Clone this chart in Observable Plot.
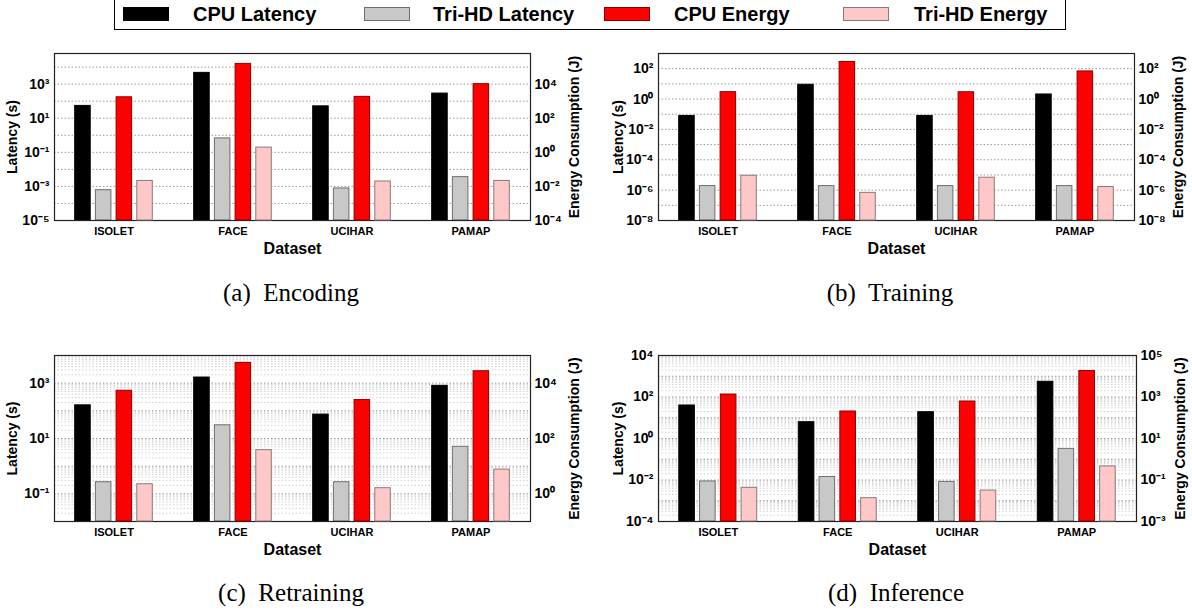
<!DOCTYPE html>
<html>
<head>
<meta charset="utf-8">
<script src="https://cdn.jsdelivr.net/npm/d3@7"></script>
<script src="https://cdn.jsdelivr.net/npm/@observablehq/plot@0.6"></script>
<style>
  html, body { margin: 0; padding: 0; background: #fff; }
  #fig { position: relative; width: 1192px; height: 613px; overflow: hidden; font-family: "Liberation Sans", Arial, sans-serif; }
  .panel { position: absolute; }
  .panel svg { position: absolute; left: 0; top: 0; overflow: visible; }
  .panel svg [aria-label="fx-axis label"] text, .panel svg [aria-label="fx-axis label"] { font-size: 16px; font-weight: bold; }
  .panel svg [aria-label="y-axis label"] text, .panel svg [aria-label="y-axis label"] { font-size: 14px; font-weight: bold; }
  .cap { position: absolute; transform: translate(-50%, -50%); font-family: "Liberation Serif", "Times New Roman", serif; font-size: 25px; white-space: pre; color: #000; }
  #legend { position: absolute; left: 114px; top: 0px; width: 952px; height: 30px; border: 1.5px solid #000; border-top: none; box-sizing: border-box; }
  .sw { position: absolute; top: 7px; width: 46px; height: 14px; box-sizing: border-box; border: 1px solid; }
  .lt { position: absolute; top: 14px; transform: translateY(-50%); font-family: "Liberation Sans", Arial, sans-serif; font-weight: bold; font-size: 20px; white-space: nowrap; }
</style>
</head>
<body>
<div id="fig"></div>
<script>
// ---------- data ----------
const datasets = ["ISOLET", "FACE", "UCIHAR", "PAMAP"];
const series = ["CPU Latency", "Tri-HD Latency", "CPU Energy", "Tri-HD Energy"];
const fills = ["#000000", "#c8c8c8", "#ff0000", "#ffc8c8"];
const strokes = ["#000000", "#6e6e6e", "#8a0000", "#8a7a7a"];

// (a) Encoding
const encCpuLat = [53, 4600, 50, 280];
const encTriLat = [6e-4, 0.66, 7.6e-4, 3.5e-3];
const encCpuEnergy = [1700, 1.55e5, 1800, 1e4];
const encTriEnergy = [0.021, 1.9, 0.0195, 0.021];
// (b) Training
const trnCpuLat = [0.077, 8.7, 0.077, 2.0];
const trnTriLat = [1.85e-6, 1.85e-6, 1.85e-6, 1.85e-6];
const trnCpuEnergy = [2.84, 278, 2.8, 66];
const trnTriEnergy = [8.9e-6, 6.6e-7, 6.6e-6, 1.6e-6];
// (c) Retraining
const retCpuLat = [158, 1600, 73, 800];
const retTriLat = [0.263, 30, 0.263, 5.0];
const retCpuEnergy = [5300, 5.4e4, 2450, 2.7e4];
const retTriEnergy = [2.22, 38, 1.6, 7.5];
// (d) Inference
const infCpuLat = [39, 6.1, 18.5, 540];
const infTriLat = [0.0085, 0.014, 0.0081, 0.316];
const infCpuEnergy = [1320, 200, 605, 1.8e4];
const infTriEnergy = [0.042, 0.0133, 0.031, 0.45];

// tick labels
const encLatTicks = [1e-5, 1e-3, 1e-1, 1e1, 1e3];
const encEnergyTicks = [1e-4, 1e-2, 1e0, 1e2, 1e4];
const trnLatTicks = [1e-8, 1e-6, 1e-4, 1e-2, 1e0, 1e2];
const trnEnergyTicks = [1e-8, 1e-6, 1e-4, 1e-2, 1e0, 1e2];
const retLatTicks = [1e-1, 1e1, 1e3];
const retEnergyTicks = [1e0, 1e2, 1e4];
const infLatTicks = [1e-4, 1e-2, 1e0, 1e2, 1e4];
const infEnergyTicks = [1e-3, 1e-1, 1e1, 1e3, 1e5];

// axis domains
const encLatDomain = [1e-5, 6.3e4], encEnergyDomain = [1e-4, 6.3e5];
const trnLatDomain = [1e-8, 1e3], trnEnergyDomain = [1e-8, 1e3];
const retLatDomain = [1e-2, 1e4], retEnergyDomain = [1e-1, 1e5];
const infLatDomain = [1e-4, 1e4], infEnergyDomain = [1e-3, 1e5];

const captions = ["(a)  Encoding", "(b)  Training", "(c)  Retraining", "(d)  Inference"];

// ---------- helpers ----------
const SUP = {"0":"⁰","1":"¹","2":"²","3":"³","4":"⁴","5":"⁵","6":"⁶","7":"⁷","8":"⁸","9":"⁹","-":"⁻"};
const supFmt = v => "10" + String(Math.round(Math.log10(v))).split("").map(c => SUP[c]).join("");
function decades(lo, hi) { const a = []; for (let e = Math.ceil(Math.log10(lo) - 1e-9); e <= Math.floor(Math.log10(hi) + 1e-9); e++) a.push(Math.pow(10, e)); return a; }
function minors(lo, hi) { const a = []; for (let e = Math.floor(Math.log10(lo)); e <= Math.ceil(Math.log10(hi)); e++) for (let k = 2; k <= 9; k++) { const v = k * Math.pow(10, e); if (v > lo && v < hi) a.push(v); } return a; }
function rows(vals, s) { return datasets.map((d, i) => ({dataset: d, series: s, value: vals[i]})); }

const fig = document.getElementById("fig");

function panel(p) {
  const div = document.createElement("div");
  div.className = "panel";
  div.style.left = p.left + "px"; div.style.top = p.top + "px";
  div.style.width = p.width + "px"; div.style.height = p.height + "px";
  fig.appendChild(div);
  const base = {
    width: p.width, height: p.height,
    marginLeft: p.ml, marginRight: p.mr, marginTop: p.mt, marginBottom: p.mb,
    style: {background: "transparent", fontFamily: "'Liberation Sans', Arial, sans-serif", color: "#000"},
    x: {domain: series, paddingInner: 0.25, paddingOuter: 1, round: false, axis: null},
    color: {domain: series, range: fills}
  };
  const latRows = [...rows(p.cpuLat, series[0]), ...rows(p.triLat, series[1])];
  const enRows = [...rows(p.cpuEn, series[2]), ...rows(p.triEn, series[3])];
  const grid = [Plot.gridY(decades(p.latDomain[0], p.latDomain[1]), {stroke: "#9a9a9a", strokeOpacity: 1, strokeDasharray: "1.5,2"})];
  if (p.minor) grid.unshift(Plot.gridY(minors(p.latDomain[0], p.latDomain[1]), {stroke: "#d2d2d2", strokeOpacity: 1, strokeDasharray: "1.5,2"}));
  const latPlot = Plot.plot({
    ...base,
    fx: {domain: datasets, padding: 0, round: false},
    y: {type: "log", domain: p.latDomain},
    marks: [
      ...grid,
      Plot.barY(latRows, {fx: "dataset", x: "series", y1: p.latDomain[0], y2: "value", fill: "series",
        stroke: d => strokes[series.indexOf(d.series)], strokeWidth: 1}),
      Plot.axisFx({anchor: "bottom", tickSize: 0, tickPadding: 7, fontSize: 11, fontWeight: "bold",
        label: "Dataset", labelAnchor: "center", labelOffset: 33, labelArrow: "none"}),
      Plot.axisY(p.latTicks, {anchor: "left", tickSize: 0, tickPadding: 5, tickFormat: supFmt, fontSize: 14, fontWeight: "bold",
        label: "Latency (s)", labelAnchor: "center", labelOffset: p.llo, labelArrow: "none"}),
      Plot.frame({facet: "super", stroke: "#222", strokeWidth: 1.2})
    ]
  });
  const enPlot = Plot.plot({
    ...base,
    fx: {domain: datasets, padding: 0, round: false, axis: null},
    y: {type: "log", domain: p.enDomain},
    marks: [
      Plot.barY(enRows, {fx: "dataset", x: "series", y1: p.enDomain[0], y2: "value", fill: "series",
        stroke: d => strokes[series.indexOf(d.series)], strokeWidth: 1}),
      Plot.axisY(p.enTicks, {anchor: "right", tickSize: 0, tickPadding: 4, tickFormat: supFmt, fontSize: 14, fontWeight: "bold",
        label: "Energy Consumption (J)", labelAnchor: "center", labelOffset: p.rlo, labelArrow: "none"})
    ]
  });
  div.appendChild(latPlot);
  div.appendChild(enPlot);
  const cap = document.createElement("div");
  cap.className = "cap";
  cap.textContent = p.caption;
  cap.style.left = p.capX + "px"; cap.style.top = p.capY + "px";
  fig.appendChild(cap);
}

panel({left: 0, top: 40, width: 596, height: 230, ml: 54, mr: 66, mt: 13, mb: 50, llo: 47, rlo: 48,
  cpuLat: encCpuLat, triLat: encTriLat, cpuEn: encCpuEnergy, triEn: encTriEnergy,
  latDomain: encLatDomain, enDomain: encEnergyDomain, latTicks: encLatTicks, enTicks: encEnergyTicks,
  minor: false, caption: captions[0], capX: 291, capY: 293});
panel({left: 596, top: 40, width: 596, height: 230, ml: 62, mr: 58, mt: 13, mb: 50, llo: 45, rlo: 48,
  cpuLat: trnCpuLat, triLat: trnTriLat, cpuEn: trnCpuEnergy, triEn: trnTriEnergy,
  latDomain: trnLatDomain, enDomain: trnEnergyDomain, latTicks: trnLatTicks, enTicks: trnEnergyTicks,
  minor: false, caption: captions[1], capX: 890, capY: 293});
panel({left: 0, top: 340, width: 596, height: 230, ml: 54, mr: 66, mt: 15, mb: 49, llo: 47, rlo: 48,
  cpuLat: retCpuLat, triLat: retTriLat, cpuEn: retCpuEnergy, triEn: retTriEnergy,
  latDomain: retLatDomain, enDomain: retEnergyDomain, latTicks: retLatTicks, enTicks: retEnergyTicks,
  minor: true, caption: captions[2], capX: 291, capY: 593});
panel({left: 596, top: 340, width: 596, height: 230, ml: 62, mr: 56, mt: 15, mb: 49, llo: 45, rlo: 48,
  cpuLat: infCpuLat, triLat: infTriLat, cpuEn: infCpuEnergy, triEn: infTriEnergy,
  latDomain: infLatDomain, enDomain: infEnergyDomain, latTicks: infLatTicks, enTicks: infEnergyTicks,
  minor: true, caption: captions[3], capX: 896, capY: 593});

// ---------- legend ----------
const legend = document.createElement("div");
legend.id = "legend";
fig.appendChild(legend);
const swX = [8, 249, 489, 728];
const txX = [78, 318, 559, 799];
series.forEach((s, i) => {
  const sw = document.createElement("div");
  sw.className = "sw";
  sw.style.left = swX[i] + "px"; sw.style.background = fills[i]; sw.style.borderColor = strokes[i];
  legend.appendChild(sw);
  const t = document.createElement("div");
  t.className = "lt"; t.style.left = txX[i] + "px"; t.textContent = s;
  legend.appendChild(t);
});
</script>
</body>
</html>
